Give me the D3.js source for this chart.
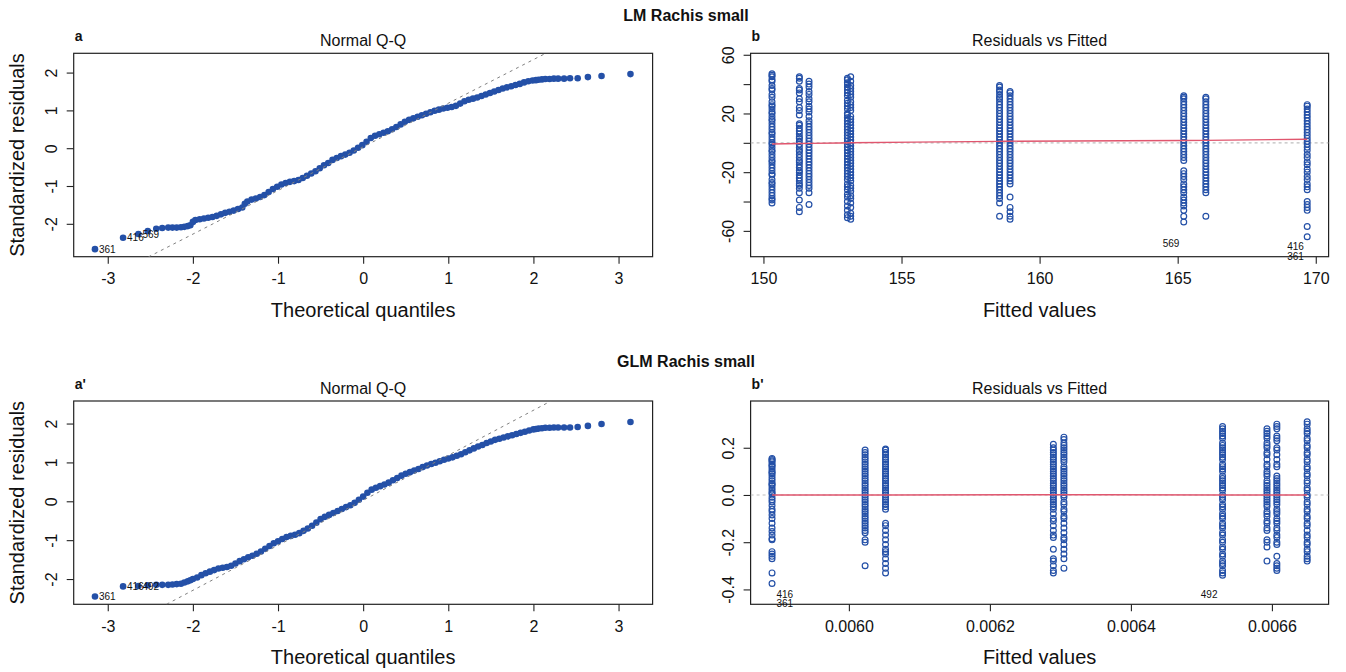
<!DOCTYPE html>
<html>
<head>
<meta charset="utf-8">
<script src="https://cdn.jsdelivr.net/npm/d3@7"></script>
<style>
  body { margin: 0; background: #fff; }
  svg text { font-family: "Liberation Sans", Arial, Helvetica, sans-serif; fill: #111; }
</style>
</head>
<body>
<svg width="1346" height="672"></svg>
<script>
// ---- data ----
// Q-Q: [theoretical quantile, standardized residual]
var lmQQ = [
  [-3.15,-2.67],[-2.82,-2.37],[-2.64,-2.27],[-2.53,-2.19],[-2.43,-2.13],[-2.36,-2.11],[-2.29,-2.10],[-2.24,-2.10],
  [-2.19,-2.10],[-2.14,-2.09],[-2.10,-2.08],[-2.06,-2.06],[-2.03,-2.04],[-2.00,-1.95],[-1.97,-1.90],[-1.92,-1.88],
  [-1.87,-1.86],[-1.82,-1.84],[-1.77,-1.82],[-1.72,-1.79],[-1.67,-1.75],[-1.62,-1.71],[-1.57,-1.68],[-1.52,-1.65],
  [-1.47,-1.61],[-1.42,-1.57],[-1.39,-1.47],[-1.36,-1.41],[-1.31,-1.36],[-1.26,-1.33],[-1.21,-1.29],[-1.16,-1.24],
  [-1.11,-1.16],[-1.06,-1.08],[-1.01,-1.02],[-0.96,-0.96],[-0.91,-0.92],[-0.86,-0.89],[-0.81,-0.87],[-0.76,-0.84],
  [-0.71,-0.79],[-0.66,-0.73],[-0.61,-0.67],[-0.56,-0.61],[-0.51,-0.53],[-0.46,-0.45],[-0.41,-0.39],[-0.36,-0.31],
  [-0.31,-0.26],[-0.26,-0.21],[-0.21,-0.17],[-0.16,-0.12],[-0.11,-0.06],[-0.06,0.01],[-0.01,0.08],[0.04,0.17],
  [0.09,0.27],[0.14,0.33],[0.19,0.37],[0.24,0.41],[0.29,0.45],[0.34,0.50],[0.39,0.56],[0.44,0.63],
  [0.49,0.70],[0.54,0.75],[0.59,0.79],[0.64,0.83],[0.69,0.87],[0.74,0.91],[0.79,0.95],[0.84,0.99],
  [0.89,1.02],[0.94,1.05],[0.99,1.07],[1.04,1.09],[1.09,1.12],[1.14,1.18],[1.19,1.24],[1.24,1.28],
  [1.29,1.31],[1.34,1.34],[1.39,1.38],[1.44,1.42],[1.49,1.46],[1.54,1.50],[1.59,1.54],[1.64,1.58],
  [1.69,1.61],[1.74,1.64],[1.79,1.67],[1.84,1.70],[1.89,1.74],[1.94,1.77],[1.99,1.79],[2.03,1.80],
  [2.06,1.81],[2.10,1.82],[2.14,1.83],[2.19,1.83],[2.24,1.84],[2.29,1.84],[2.36,1.84],[2.43,1.85],
  [2.52,1.85],[2.64,1.88],[2.80,1.91],[3.14,1.96]
];
var glmQQ = [
  [-3.15,-2.45],[-2.82,-2.19],[-2.64,-2.18],[-2.53,-2.16],[-2.43,-2.15],[-2.36,-2.15],[-2.29,-2.15],[-2.24,-2.14],
  [-2.19,-2.13],[-2.14,-2.12],[-2.10,-2.09],[-2.06,-2.06],[-2.03,-2.03],[-2.00,-2.00],[-1.95,-1.96],[-1.90,-1.90],
  [-1.85,-1.85],[-1.80,-1.81],[-1.75,-1.77],[-1.70,-1.73],[-1.65,-1.71],[-1.60,-1.69],[-1.55,-1.66],[-1.50,-1.60],
  [-1.45,-1.54],[-1.40,-1.49],[-1.35,-1.44],[-1.30,-1.40],[-1.25,-1.35],[-1.20,-1.29],[-1.15,-1.22],[-1.10,-1.15],
  [-1.05,-1.08],[-1.00,-1.03],[-0.95,-0.97],[-0.90,-0.92],[-0.85,-0.89],[-0.80,-0.86],[-0.75,-0.82],[-0.70,-0.76],
  [-0.65,-0.70],[-0.60,-0.63],[-0.55,-0.55],[-0.50,-0.46],[-0.45,-0.40],[-0.40,-0.35],[-0.35,-0.30],[-0.30,-0.25],
  [-0.25,-0.20],[-0.20,-0.15],[-0.15,-0.10],[-0.10,-0.04],[-0.05,0.04],[0.00,0.12],[0.05,0.22],[0.10,0.30],
  [0.15,0.35],[0.20,0.39],[0.25,0.43],[0.30,0.48],[0.35,0.54],[0.40,0.60],[0.45,0.66],[0.50,0.71],
  [0.55,0.75],[0.60,0.79],[0.65,0.83],[0.70,0.88],[0.75,0.92],[0.80,0.96],[0.85,0.99],[0.90,1.03],
  [0.95,1.07],[1.00,1.10],[1.05,1.13],[1.10,1.17],[1.15,1.21],[1.20,1.26],[1.25,1.31],[1.30,1.36],
  [1.35,1.41],[1.40,1.45],[1.45,1.50],[1.50,1.54],[1.55,1.58],[1.60,1.61],[1.65,1.64],[1.70,1.67],
  [1.75,1.70],[1.80,1.73],[1.85,1.76],[1.90,1.79],[1.95,1.82],[2.00,1.85],[2.03,1.86],[2.06,1.87],
  [2.10,1.88],[2.14,1.89],[2.19,1.89],[2.24,1.90],[2.29,1.90],[2.36,1.90],[2.43,1.90],[2.52,1.91],
  [2.64,1.94],[2.80,1.99],[3.14,2.04]
];
// qq reference lines: [intercept, slope]
var lmQQLine = [0.035, 1.154];
var glmQQLine = [0.025, 1.158];
var qqLabelsLM = [["361",-3.15,-2.67],["416",-2.82,-2.37],["569",-2.64,-2.27]];
var qqLabelsGLM = [["361",-3.15,-2.45],["416",-2.82,-2.19],["492",-2.64,-2.18]];

// residuals vs fitted, one residual list per fitted value
var lmFitted = [150.31, 151.30, 151.65, 153.04, 153.16, 158.55, 158.93, 165.22, 166.02, 169.69];
var lmResid = [
  [47,46,45,43,42,39,37,36,33,31,28,26,25,23,21,20,18,16,15,13,11,9,7,6,4,2,0,-1,-3,-5,-6,-8,-10,-12,-13,-15,-17,-19,-21,-22,-25,-27,-28,-30,-32,-34,-36,-38,-39,-41],
  [45,44,42,37,36,34,30,28,24,22,19,13,12,10,8,6,4,3,1,-1,-3,-5,-6,-8,-10,-12,-13,-15,-17,-19,-20,-22,-24,-26,-28,-29,-31,-34,-39,-44,-47],
  [42,40,38,35,33,30,28,25,23,21,18,15,13,11,9,7,5,3,1,-1,-3,-5,-7,-9,-11,-13,-15,-17,-19,-21,-23,-25,-27,-29,-31,-34,-42],
  [44,43,41,40,38,36,34,32,29,27,25,23,20,19,17,15,13,11,9,7,5,3,1,-1,-3,-5,-7,-9,-11,-13,-15,-17,-19,-21,-23,-25,-28,-30,-32,-35,-37,-40,-43,-46,-49,-51],
  [45,42,39,37,35,33,31,28,26,24,22,18,16,14,12,10,8,6,4,2,0,-2,-4,-6,-8,-10,-12,-14,-16,-18,-20,-22,-24,-26,-29,-31,-33,-36,-38,-41,-44,-48,-50,-52],
  [39,38,36,35,33,31,30,28,26,24,22,20,18,16,14,12,10,8,6,4,2,0,-2,-4,-6,-8,-10,-12,-14,-16,-18,-20,-22,-24,-26,-28,-30,-32,-34,-36,-38,-41,-50],
  [35,34,32,30,28,26,24,22,20,18,16,14,12,10,8,6,4,2,0,-2,-4,-6,-8,-10,-12,-14,-16,-18,-20,-22,-24,-26,-28,-37,-44,-47,-50,-52],
  [32,31,30,28,26,24,22,20,18,16,14,12,10,8,6,4,2,0,-2,-4,-6,-8,-10,-12,-19,-21,-23,-25,-28,-30,-32,-34,-37,-39,-41,-43,-46,-50,-54],
  [31,30,28,26,24,22,20,18,16,14,12,10,8,6,4,2,0,-2,-4,-6,-8,-10,-12,-14,-16,-18,-20,-22,-24,-26,-28,-30,-32,-34,-50],
  [26,25,23,21,19,17,15,13,11,9,7,5,3,1,-1,-3,-5,-8,-10,-13,-15,-18,-20,-23,-25,-28,-30,-32,-40,-42,-44,-46,-57,-64]
];
var lmSmooth = [[150.31,-0.8],[151.30,-0.5],[151.65,-0.4],[153.10,0.0],[158.55,1.0],[158.93,1.1],[165.22,1.6],[166.02,1.7],[169.69,2.4]];
var lmRvfLabels = [["569",164.76,-68.6],["416",169.27,-70.9],["361",169.27,-77.7]];

var glmFitted = [0.005891, 0.006023, 0.006052, 0.006290, 0.006305, 0.006530, 0.006593, 0.006607, 0.006650];
var glmResid = [
  [0.155,0.15,0.145,0.14,0.13,0.125,0.12,0.11,0.10,0.095,0.09,0.08,0.07,0.06,0.05,0.045,0.04,0.03,0.02,0.01,0.005,-0.01,-0.02,-0.03,-0.045,-0.06,-0.07,-0.085,-0.10,-0.12,-0.14,-0.155,-0.17,-0.185,-0.19,-0.24,-0.25,-0.26,-0.27,-0.33,-0.375],
  [0.19,0.18,0.17,0.16,0.15,0.14,0.13,0.12,0.11,0.10,0.09,0.08,0.07,0.06,0.05,0.04,0.03,0.02,0.01,0.0,-0.01,-0.02,-0.03,-0.04,-0.05,-0.06,-0.07,-0.08,-0.09,-0.10,-0.11,-0.12,-0.13,-0.14,-0.15,-0.16,-0.19,-0.20,-0.30],
  [0.195,0.19,0.18,0.17,0.16,0.15,0.14,0.13,0.12,0.11,0.10,0.09,0.08,0.07,0.06,0.05,0.04,0.03,0.02,0.01,0.0,-0.01,-0.02,-0.03,-0.04,-0.05,-0.06,-0.12,-0.13,-0.15,-0.17,-0.19,-0.21,-0.23,-0.24,-0.25,-0.27,-0.29,-0.31,-0.33],
  [0.215,0.20,0.19,0.18,0.17,0.16,0.15,0.14,0.13,0.12,0.11,0.10,0.09,0.08,0.07,0.06,0.05,0.04,0.03,0.02,0.01,0.0,-0.01,-0.02,-0.03,-0.04,-0.05,-0.06,-0.08,-0.10,-0.11,-0.13,-0.15,-0.17,-0.18,-0.23,-0.27,-0.28,-0.30,-0.32,-0.33],
  [0.245,0.235,0.22,0.21,0.20,0.19,0.18,0.17,0.16,0.15,0.14,0.12,0.11,0.10,0.09,0.08,0.07,0.06,0.05,0.04,0.03,0.02,0.01,0.0,-0.01,-0.03,-0.04,-0.06,-0.07,-0.09,-0.10,-0.12,-0.14,-0.16,-0.18,-0.19,-0.21,-0.23,-0.25,-0.27,-0.31],
  [0.29,0.28,0.27,0.26,0.25,0.24,0.22,0.21,0.20,0.19,0.18,0.17,0.16,0.15,0.13,0.12,0.11,0.10,0.08,0.07,0.06,0.05,0.04,0.03,0.02,0.0,-0.01,-0.02,-0.04,-0.05,-0.06,-0.08,-0.09,-0.10,-0.12,-0.13,-0.14,-0.16,-0.17,-0.19,-0.20,-0.22,-0.23,-0.25,-0.26,-0.28,-0.29,-0.30,-0.32,-0.33,-0.34],
  [0.28,0.27,0.26,0.25,0.24,0.22,0.21,0.20,0.18,0.17,0.15,0.13,0.12,0.10,0.09,0.08,0.06,0.05,0.04,0.03,0.02,0.01,0.0,-0.01,-0.02,-0.03,-0.04,-0.05,-0.07,-0.08,-0.09,-0.11,-0.12,-0.14,-0.15,-0.19,-0.20,-0.22,-0.28],
  [0.30,0.29,0.28,0.25,0.24,0.23,0.20,0.19,0.17,0.15,0.13,0.12,0.08,0.07,0.06,0.05,0.04,0.03,0.02,0.01,0.0,-0.01,-0.02,-0.03,-0.04,-0.06,-0.07,-0.08,-0.10,-0.11,-0.12,-0.14,-0.15,-0.17,-0.18,-0.20,-0.21,-0.26,-0.29,-0.30,-0.31,-0.32],
  [0.31,0.30,0.28,0.27,0.26,0.24,0.23,0.21,0.20,0.18,0.17,0.15,0.14,0.12,0.11,0.09,0.08,0.06,0.05,0.03,0.02,0.0,-0.01,-0.03,-0.04,-0.06,-0.07,-0.09,-0.10,-0.12,-0.13,-0.15,-0.17,-0.18,-0.20,-0.21,-0.23,-0.24,-0.26,-0.27,-0.28]
];
var glmSmooth = [[0.005891,0.0],[0.006023,0.0],[0.006052,0.0],[0.006290,0.001],[0.006305,0.001],[0.006530,0.0],[0.006593,0.0],[0.006607,0.0],[0.006650,0.0]];
var glmRvfLabels = [["416",0.005909,-0.422],["361",0.005909,-0.461],["492",0.006511,-0.422]];

var qqTicksX = [-3,-2,-1,0,1,2,3];
var qqTicksY = [-2,-1,0,1,2];
var lmTicksX = [150,155,160,165,170];
var lmTicksY = [-60,-40,-20,0,20,40,60];
var lmTickLabelsY = [-60,-20,20,60];
var glmTicksX = [0.0060,0.0062,0.0064,0.0066];
var glmTicksY = [-0.4,-0.2,0.0,0.2];

// ---- drawing ----
var svg = d3.select("svg");
var ptColor = "#2450a7";
var smoothColor = "#e0566e";
var clipId = 0;

// R prints a plain hyphen for negatives
function plain(v) { return String(v); }

function panel(box, xDom, yDom, xTicks, yTicks, fmtX, fmtY) {
  var g = svg.append("g");
  var x = d3.scaleLinear().domain(xDom).range([box.x0, box.x1]);
  var y = d3.scaleLinear().domain(yDom).range([box.y1, box.y0]);

  var xa = g.append("g").attr("transform", "translate(0," + box.y1 + ")")
    .call(d3.axisBottom(x).tickValues(xTicks).tickSize(7).tickPadding(9).tickFormat(fmtX));
  var ya = g.append("g").attr("transform", "translate(" + box.x0 + ",0)")
    .call(d3.axisLeft(y).tickValues(yTicks).tickSize(7).tickFormat(fmtY));
  [xa, ya].forEach(function(a) {
    a.select(".domain").remove();
    a.selectAll("line").attr("stroke", "#222").attr("stroke-width", 1.1);
    a.selectAll("text").style("font-size", "16px").attr("fill", "#111");
  });
  // R draws y tick labels parallel to the axis
  ya.selectAll("text").attr("x", null).attr("dy", null)
    .attr("text-anchor", "middle")
    .attr("transform", "translate(-17,0) rotate(-90)");

  g.append("rect")
    .attr("x", box.x0).attr("y", box.y0)
    .attr("width", box.x1 - box.x0).attr("height", box.y1 - box.y0)
    .attr("fill", "none").attr("stroke", "#222").attr("stroke-width", 1.2);

  var id = "clip" + (clipId++);
  svg.append("clipPath").attr("id", id).append("rect")
    .attr("x", box.x0).attr("y", box.y0)
    .attr("width", box.x1 - box.x0).attr("height", box.y1 - box.y0);
  var plot = g.append("g").attr("clip-path", "url(#" + id + ")");
  return {g: g, plot: plot, x: x, y: y};
}

function titles(box, letter, caption, xlab, ylab) {
  var cx = (box.x0 + box.x1) / 2;
  svg.append("text").attr("x", box.x0 + 1).attr("y", box.y0 - 12)
    .style("font-size", "14px").style("font-weight", "bold").text(letter);
  svg.append("text").attr("x", cx).attr("y", box.y0 - 7)
    .attr("text-anchor", "middle").style("font-size", "16px").text(caption);
  svg.append("text").attr("x", cx).attr("y", box.y1 + 60)
    .attr("text-anchor", "middle").style("font-size", "20px").text(xlab);
  if (ylab) {
    svg.append("text")
      .attr("transform", "translate(" + (box.x0 - 50) + "," + ((box.y0 + box.y1) / 2) + ") rotate(-90)")
      .attr("text-anchor", "middle").style("font-size", "20px").text(ylab);
  }
}

function drawQQ(box, pts, line, labels, yDom) {
  var p = panel(box, [-3.40, 3.40], yDom, qqTicksX, qqTicksY, plain, plain);
  p.plot.selectAll("circle").data(pts).enter().append("circle")
    .attr("cx", function(d) { return p.x(d[0]); })
    .attr("cy", function(d) { return p.y(d[1]); })
    .attr("r", 3.3).attr("fill", ptColor);
  var xs = p.x.domain();
  p.plot.append("line")
    .attr("x1", p.x(xs[0])).attr("y1", p.y(line[0] + line[1] * xs[0]))
    .attr("x2", p.x(xs[1])).attr("y2", p.y(line[0] + line[1] * xs[1]))
    .attr("stroke", "#808080").attr("stroke-width", 1).attr("stroke-dasharray", "3,4");
  p.g.selectAll(".lab").data(labels).enter().append("text")
    .attr("x", function(d) { return p.x(d[1]) + 4; })
    .attr("y", function(d) { return p.y(d[2]); })
    .attr("dy", "0.35em").style("font-size", "10px").text(function(d) { return d[0]; });
}

function drawRVF(box, xDom, yDom, fitted, resid, smooth, labels, xTicks, yTicks, fmtX, fmtY) {
  var p = panel(box, xDom, yDom, xTicks, yTicks, fmtX, fmtY);
  p.plot.append("line")
    .attr("x1", box.x0).attr("x2", box.x1).attr("y1", p.y(0)).attr("y2", p.y(0))
    .attr("stroke", "#bebebe").attr("stroke-width", 1.2).attr("stroke-dasharray", "3,3");
  var flat = [];
  fitted.forEach(function(f, i) {
    resid[i].forEach(function(r) { flat.push([f, r]); });
  });
  p.plot.selectAll("circle").data(flat).enter().append("circle")
    .attr("cx", function(d) { return p.x(d[0]); })
    .attr("cy", function(d) { return p.y(d[1]); })
    .attr("r", 2.9).attr("fill", "none")
    .attr("stroke", ptColor).attr("stroke-width", 1.2);
  p.plot.append("path").datum(smooth)
    .attr("d", d3.line().curve(d3.curveMonotoneX)
      .x(function(d) { return p.x(d[0]); }).y(function(d) { return p.y(d[1]); }))
    .attr("fill", "none").attr("stroke", smoothColor).attr("stroke-width", 1.4);
  p.g.selectAll(".lab").data(labels).enter().append("text")
    .attr("x", function(d) { return p.x(d[1]); })
    .attr("y", function(d) { return p.y(d[2]); })
    .attr("dy", "0.35em").attr("text-anchor", "middle")
    .style("font-size", "10px").text(function(d) { return d[0]; });
}

var boxA = {x0: 73.7, x1: 652.6, y0: 53.3, y1: 256.7};
var boxB = {x0: 750.6, x1: 1328.6, y0: 53.3, y1: 256.7};
var boxA2 = {x0: 73.7, x1: 652.6, y0: 401, y1: 604.3};
var boxB2 = {x0: 750.6, x1: 1328.6, y0: 401, y1: 604.3};

svg.append("text").attr("x", 686).attr("y", 20.5).attr("text-anchor", "middle")
  .style("font-size", "16px").style("font-weight", "bold").text("LM Rachis small");
svg.append("text").attr("x", 686).attr("y", 367).attr("text-anchor", "middle")
  .style("font-size", "16px").style("font-weight", "bold").text("GLM Rachis small");

drawQQ(boxA, lmQQ, lmQQLine, qqLabelsLM, [-2.87, 2.51]);
titles(boxA, "a", "Normal Q-Q", "Theoretical quantiles", "Standardized residuals");

drawRVF(boxB, [149.535, 170.465], [-77.6, 61.0], lmFitted, lmResid, lmSmooth, lmRvfLabels,
  lmTicksX, lmTicksY, plain,
  function(v) { return lmTickLabelsY.indexOf(v) >= 0 ? String(v) : ""; });
titles(boxB, "b", "Residuals vs Fitted", "Fitted values", null);

drawQQ(boxA2, glmQQ, glmQQLine, qqLabelsGLM, [-2.65, 2.58]);
titles(boxA2, "a'", "Normal Q-Q", "Theoretical quantiles", "Standardized residuals");

drawRVF(boxB2, [0.0058606, 0.0066804], [-0.463, 0.398], glmFitted, glmResid, glmSmooth, glmRvfLabels,
  glmTicksX, glmTicksY, function(v) { return v.toFixed(4); },
  function(v) { return v.toFixed(1); });
titles(boxB2, "b'", "Residuals vs Fitted", "Fitted values", null);
</script>
</body>
</html>
